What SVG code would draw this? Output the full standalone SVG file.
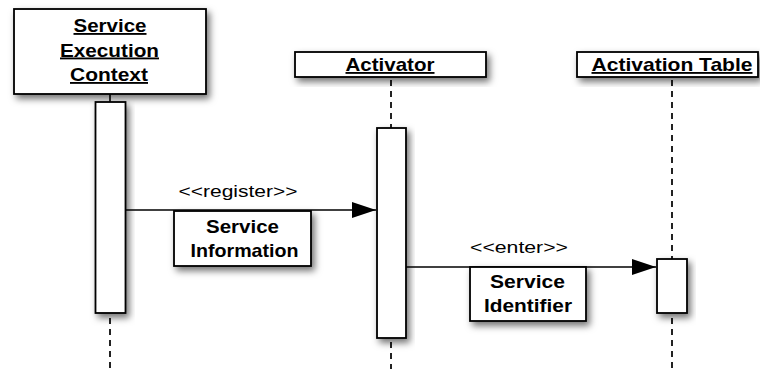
<svg xmlns="http://www.w3.org/2000/svg" width="760" height="369" viewBox="0 0 760 369">
  <defs>
    <filter id="shadow" x="-20%" y="-20%" width="150%" height="160%">
      <feDropShadow dx="3" dy="4" stdDeviation="3.5" flood-color="#000" flood-opacity="0.55"/>
    </filter>
    <marker id="arrow" markerWidth="24" markerHeight="16" refX="24" refY="8" orient="auto" markerUnits="userSpaceOnUse">
      <path d="M0,0 L24,8 L0,16 Z" fill="#000"/>
    </marker>
  </defs>
  <style>
    .box { fill: #fff; stroke: #000; stroke-width: 1.8; filter: url(#shadow); }
    .life { stroke: #222; stroke-width: 2; stroke-dasharray: 6 5; fill: none; }
    .msg { stroke: #000; stroke-width: 1.6; fill: none; marker-end: url(#arrow); }
    .head { font-family: "Liberation Sans", Arial, sans-serif; font-weight: bold; font-size: 18.5px; text-anchor: middle; text-decoration: underline; fill: #000; }
    .note { font-family: "Liberation Sans", Arial, sans-serif; font-weight: bold; font-size: 18.5px; text-anchor: middle; fill: #000; }
    .label { font-family: "Liberation Sans", Arial, sans-serif; font-size: 17px; text-anchor: middle; fill: #000; }
  </style>

  <!-- lifelines -->
  <g id="lifelines">
    <line x1="110" y1="94" x2="110" y2="102" stroke="#000" stroke-width="1.6"/>
    <line class="life" x1="110" y1="318" x2="110" y2="369"/>
    <line class="life" x1="391" y1="80" x2="391" y2="128"/>
    <line class="life" x1="391" y1="342" x2="391" y2="369"/>
    <line class="life" x1="672" y1="80" x2="672" y2="259"/>
    <line class="life" x1="672" y1="318" x2="672" y2="369"/>
  </g>

  <!-- Service Execution Context -->
  <g id="service-execution-context">
    <rect class="box" x="14" y="9" width="192" height="85"/>
    <text class="head" x="110" y="32" textLength="73" lengthAdjust="spacingAndGlyphs">Service</text>
    <text class="head" x="109.5" y="56.5" textLength="99" lengthAdjust="spacingAndGlyphs">Execution</text>
    <text class="head" x="109" y="81" textLength="78" lengthAdjust="spacingAndGlyphs">Context</text>
    <rect class="box" x="95.5" y="102" width="30" height="211"/>
  </g>

  <!-- Activator -->
  <g id="activator">
    <rect class="box" x="295" y="52" width="191" height="25"/>
    <text class="head" x="390" y="71" textLength="89" lengthAdjust="spacingAndGlyphs">Activator</text>
    <rect class="box" x="377" y="128" width="29" height="210"/>
  </g>

  <!-- Activation Table -->
  <g id="activation-table">
    <rect class="box" x="577" y="52" width="181" height="25"/>
    <text class="head" x="672" y="71" textLength="161" lengthAdjust="spacingAndGlyphs">Activation Table</text>
    <rect class="box" x="657" y="259" width="30" height="54"/>
  </g>

  <!-- messages -->
  <g id="connectors">
    <line class="msg" x1="125.5" y1="210" x2="376" y2="210"/>
    <text class="label" x="238" y="196.5" textLength="119" lengthAdjust="spacingAndGlyphs">&lt;&lt;register&gt;&gt;</text>
    <line class="msg" x1="406" y1="267" x2="656" y2="267"/>
    <text class="label" x="519" y="252.5" textLength="98" lengthAdjust="spacingAndGlyphs">&lt;&lt;enter&gt;&gt;</text>
  </g>

  <!-- message payloads -->
  <g id="service-information">
    <rect class="box" x="174" y="211" width="137" height="55"/>
    <text class="note" x="242.5" y="233" textLength="73" lengthAdjust="spacingAndGlyphs">Service</text>
    <text class="note" x="244.5" y="257" textLength="108" lengthAdjust="spacingAndGlyphs">Information</text>
  </g>
  <g id="service-identifier">
    <rect class="box" x="470" y="267" width="116" height="54"/>
    <text class="note" x="527.5" y="288" textLength="75" lengthAdjust="spacingAndGlyphs">Service</text>
    <text class="note" x="528" y="311.5" textLength="88" lengthAdjust="spacingAndGlyphs">Identifier</text>
  </g>
</svg>
